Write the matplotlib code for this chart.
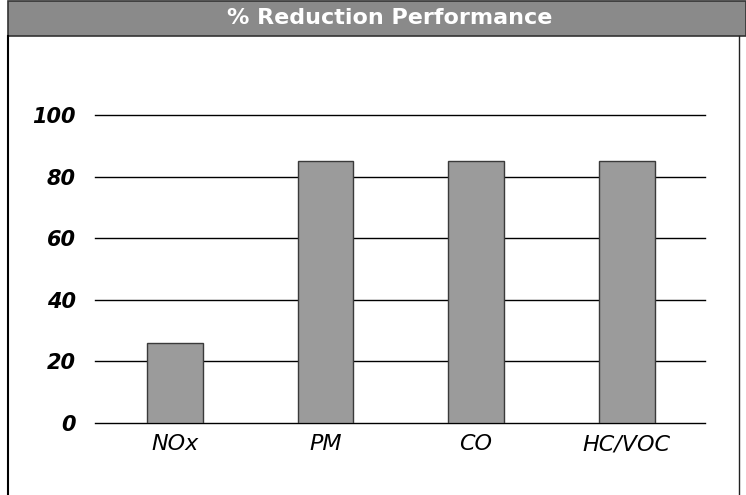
import matplotlib.pyplot as plt
from matplotlib.patches import Rectangle
from matplotlib.lines import Line2D

# Data
categories = ["NOx", "PM", "CO", "HC/VOC"]
reduction = [26, 85, 85, 85]
y_ticks = [0, 20, 40, 60, 80, 100]

W, H = 746, 495
fig = plt.figure(figsize=(W / 100, H / 100), dpi=100)
fig.patch.set_facecolor("white")

# grey title bar and outer frame (figure pixel coords -> fraction)
def fx(px):
    return px / W

def fy(py):
    return 1 - py / H

fig.patches.append(Rectangle((fx(8), fy(36)), fx(746) - fx(8), fy(1) - fy(36),
                             transform=fig.transFigure, facecolor="#8a8a8a",
                             edgecolor="#333333", linewidth=1.2))
fig.lines.append(Line2D([fx(8), fx(8)], [fy(36), 0], transform=fig.transFigure,
                        color="black", linewidth=1.5))
fig.lines.append(Line2D([fx(739), fx(739)], [fy(36), 0], transform=fig.transFigure,
                        color="#222222", linewidth=1.0))
fig.text(fx(390), fy(18), "% Reduction Performance", color="white",
         fontsize=16, fontweight="bold", ha="center", va="center")

ax = fig.add_axes([fx(95), fy(423), fx(705) - fx(95), fy(115) - fy(423)])
x = range(len(categories))
ax.bar(x, reduction, width=0.37, color="#9b9b9b", edgecolor="#3a3a3a",
       linewidth=1.0, zorder=3)

for t in y_ticks:
    ax.axhline(t, color="black", linewidth=1.0, zorder=2, clip_on=False)

ax.set_xlim(-0.53, 3.52)
ax.set_ylim(0, 100)
ax.set_yticks(y_ticks)
ax.set_yticklabels([str(t) for t in y_ticks], fontsize=15, fontstyle="italic",
                   fontweight="bold")
ax.set_xticks(list(x))
ax.set_xticklabels(categories, fontsize=16, fontstyle="italic")
ax.tick_params(axis="both", length=0)
ax.tick_params(axis="y", pad=14)
ax.tick_params(axis="x", pad=8)
for s in ax.spines.values():
    s.set_visible(False)

fig.savefig("out.png", dpi=100)
